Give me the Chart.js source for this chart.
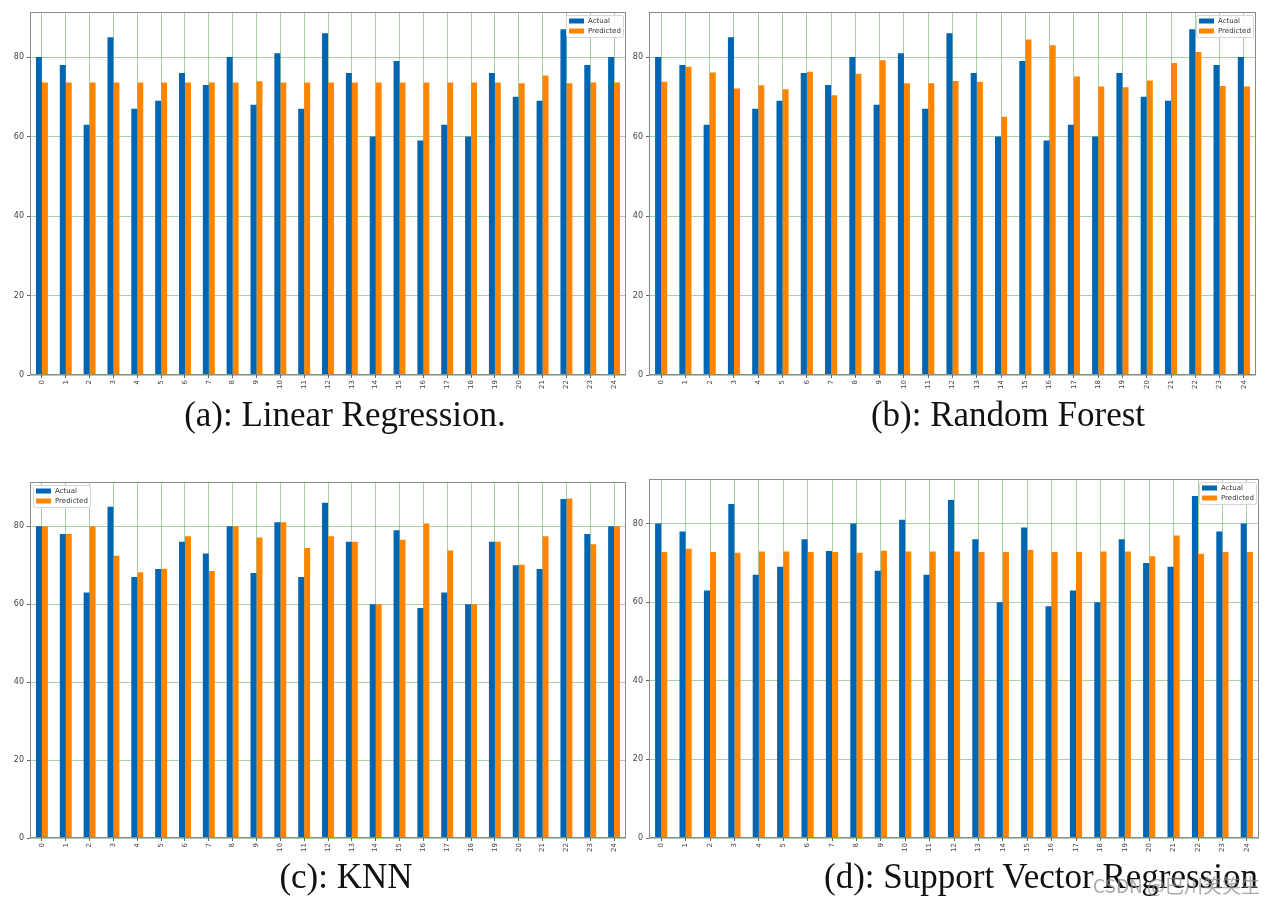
<!DOCTYPE html>
<html>
<head>
<meta charset="utf-8">
<script src="https://cdn.jsdelivr.net/npm/chart.js@4.4.1/dist/chart.umd.min.js"></script>
<style>
  html, body { margin: 0; padding: 0; background: #fff; }
  body { width: 1281px; height: 909px; position: relative; overflow: hidden; }
  .painel { position: absolute; }
  .legenda {
    position: absolute;
    font-family: "Liberation Serif", "Times New Roman", serif;
    font-size: 35px;
    line-height: 35px;
    color: #111;
    white-space: nowrap;
    transform: translateX(-50%);
  }
  .marca {
    position: absolute;
    left: 1093px; top: 871px;
    font-family: "Noto Sans CJK SC", "DejaVu Sans", sans-serif;
    font-size: 19px;
    color: rgba(140, 140, 140, 0.75);
    white-space: nowrap;
  }
</style>
</head>
<body>
<div class="painel" style="left:0;top:0;width:640px;height:400px"><canvas id="graf-a"></canvas></div>
<div class="painel" style="left:619px;top:0;width:650px;height:400px"><canvas id="graf-b"></canvas></div>
<div class="painel" style="left:0;top:460px;width:640px;height:403px"><canvas id="graf-c"></canvas></div>
<div class="painel" style="left:619px;top:460px;width:650px;height:403px"><canvas id="graf-d"></canvas></div>

<div class="legenda" style="left:345px;top:397px">(a): Linear Regression.</div>
<div class="legenda" style="left:1008px;top:397px">(b): Random Forest</div>
<div class="legenda" style="left:346px;top:859px">(c): KNN</div>
<div class="legenda" style="left:1041px;top:859px">(d): Support Vector Regression</div>
<div class="marca">CSDN @巴川笑笑生</div>

<script>
// ─── Dados ────────────────────────────────────────────────────────────────────
const categorias = ['0','1','2','3','4','5','6','7','8','9','10','11','12','13','14','15','16','17','18','19','20','21','22','23','24'];
const valoresReais = [80, 78, 63, 85, 67, 69, 76, 73, 80, 68, 81, 67, 86, 76, 60, 79, 59, 63, 60, 76, 70, 69, 87, 78, 80];

const previstoLinear = [73.6, 73.6, 73.6, 73.6, 73.6, 73.6, 73.6, 73.6, 73.6, 73.9, 73.6, 73.6, 73.6,
                        73.6, 73.6, 73.6, 73.6, 73.6, 73.6, 73.6, 73.4, 75.4, 73.4, 73.6, 73.6];
const previstoFloresta = [73.8, 77.6, 76.1, 72.1, 72.9, 71.9, 76.3, 70.4, 75.8, 79.2, 73.4, 73.4, 74.0,
                          73.8, 65.0, 84.4, 83.0, 75.1, 72.6, 72.4, 74.1, 78.5, 81.3, 72.7, 72.6];
const previstoKnn = [80, 78, 80, 72.4, 68.2, 69.1, 77.4, 68.5, 80, 77.1, 81, 74.4, 77.4,
                     76, 60, 76.5, 80.7, 73.8, 60, 76, 70.1, 77.4, 87.1, 75.4, 80];
const previstoSvr = [72.8, 73.6, 72.8, 72.6, 72.9, 72.9, 72.8, 72.8, 72.6, 73.1, 72.9, 72.9, 72.9,
                     72.8, 72.8, 73.3, 72.8, 72.8, 72.9, 72.9, 71.7, 77.0, 72.3, 72.8, 72.8];

const ticksY = [0, 20, 40, 60, 80];
const Y_MAX = 91.35;

const COR_REAL = '#0066b3';
const COR_PREV = '#ff8500';
const COR_GRADE = 'rgba(0, 128, 0, 0.35)';

// ─── Plugin: moldura + legenda dentro da área do gráfico ─────────────────────
const molduraLegenda = {
  id: 'molduraLegenda',
  afterDraw(chart, _args, opts) {
    const { ctx, chartArea: a } = chart;
    ctx.save();
    ctx.strokeStyle = '#8a8a8a';
    ctx.lineWidth = 1;
    ctx.strokeRect(a.left + 0.5, a.top + 0.5, a.right - a.left - 1, a.bottom - a.top - 1);

    // caixa da legenda
    const w = 57, h = 22;
    const x = opts.lado === 'esquerda' ? a.left + 3 : a.right - w - 3;
    const y = a.top + 3;
    ctx.fillStyle = 'rgba(255,255,255,0.9)';
    ctx.strokeStyle = '#d6d6d6';
    ctx.beginPath();
    ctx.roundRect(x + 0.5, y + 0.5, w, h, 2);
    ctx.fill();
    ctx.stroke();

    ctx.font = '7px "DejaVu Sans", sans-serif';
    ctx.textBaseline = 'middle';
    chart.data.datasets.forEach((ds, i) => {
      const ly = y + 6 + i * 10;
      ctx.fillStyle = ds.backgroundColor;
      ctx.fillRect(x + 3, ly - 2.5, 15, 5);
      ctx.fillStyle = '#333';
      ctx.fillText(ds.label, x + 22, ly + 0.5);
    });
    ctx.restore();
  },
};

// ─── Cria um painel ───────────────────────────────────────────────────────────
function criarGrafico(id, previsto, padding, lado) {
  return new Chart(document.getElementById(id), {
    type: 'bar',
    data: {
      labels: categorias,
      datasets: [
        { label: 'Actual', data: valoresReais, backgroundColor: COR_REAL,
          categoryPercentage: 0.5, barPercentage: 1.0 },
        { label: 'Predicted', data: previsto, backgroundColor: COR_PREV,
          categoryPercentage: 0.5, barPercentage: 1.0 },
      ],
    },
    options: {
      responsive: true,
      maintainAspectRatio: false,
      animation: false,
      layout: { padding },
      plugins: {
        legend: { display: false },
        tooltip: { enabled: false },
        molduraLegenda: { lado },
      },
      scales: {
        x: {
          offset: true,
          z: 1,
          grid: { offset: false, color: COR_GRADE, lineWidth: 1, tickLength: 3, tickColor: '#666' },
          border: { display: false },
          ticks: {
            minRotation: 90, maxRotation: 90, padding: 2,
            color: '#444', font: { size: 7, family: '"DejaVu Sans", sans-serif' },
          },
          afterFit: s => { s.height = 25; },
        },
        y: {
          min: 0,
          max: Y_MAX,
          z: 1,
          grid: { color: COR_GRADE, lineWidth: 1, tickLength: 3, tickColor: '#666' },
          border: { display: false },
          ticks: {
            stepSize: 20, padding: 3,
            color: '#444', font: { size: 8, family: '"DejaVu Sans", sans-serif' },
          },
          afterBuildTicks: s => { s.ticks = s.ticks.filter(t => ticksY.includes(t.value)); },
          afterFit: s => { s.width = 30; },
        },
      },
    },
    plugins: [molduraLegenda],
  });
}

criarGrafico('graf-a', previstoLinear,    { top: 12, right: 14 }, 'direita');
criarGrafico('graf-b', previstoFloresta,  { top: 12, right: 13 }, 'direita');
criarGrafico('graf-c', previstoKnn,       { top: 22, right: 14 }, 'esquerda');
criarGrafico('graf-d', previstoSvr,       { top: 19, right: 10 }, 'direita');
</script>
</body>
</html>
